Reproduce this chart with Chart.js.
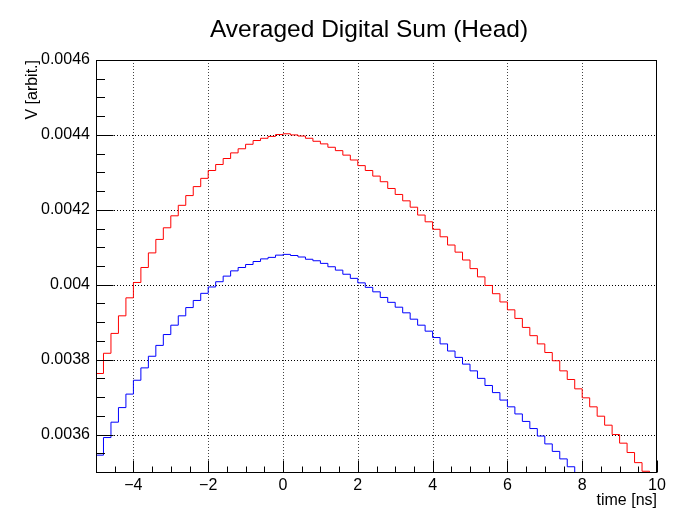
<!DOCTYPE html>
<html><head><meta charset="utf-8">
<script src="https://cdn.jsdelivr.net/npm/chart.js@4.4.1/dist/chart.umd.min.js"></script>
<style>html,body{margin:0;padding:0;background:#fff}#wrap{width:677px;height:510px}</style>
</head><body><div id="wrap"><canvas id="c" width="677" height="510"></canvas></div>
<script>
const chartTitle = 'Averaged Digital Sum (Head)';
const xAxisTitle = 'time [ns]';
const yAxisTitle = 'V [arbit.]';
const xMin = -5, xMax = 10, binWidth = 0.2;
const yMin = 0.0035, yMax = 0.0046;
const xMajorTicks = [-4, -2, 0, 2, 4, 6, 8, 10];
const yMajorTicks = [0.0036, 0.0038, 0.004, 0.0042, 0.0044, 0.0046];
const xMinorStep = 0.5;
const yMinorStep = 0.00005;

const redValues = [
  0.003763,0.003817,0.003870,0.003917,0.003965,0.004006,0.004046,0.004085,0.004121,0.004152,
  0.004184,0.004212,0.004238,0.004262,0.004284,0.004305,0.004321,0.004337,0.004352,0.004363,
  0.004375,0.004385,0.004391,0.004396,0.004401,0.004403,0.004400,0.004397,0.004391,0.004383,
  0.004376,0.004367,0.004358,0.004346,0.004333,0.004318,0.004305,0.004290,0.004275,0.004257,
  0.004241,0.004224,0.004207,0.004186,0.004168,0.004148,0.004128,0.004106,0.004087,0.004066,
  0.004043,0.004021,0.003998,0.003976,0.003954,0.003933,0.003910,0.003886,0.003864,0.003842,
  0.003819,0.003797,0.003770,0.003747,0.003722,0.003698,0.003674,0.003649,0.003625,0.003600,
  0.003577,0.003552,0.003525,0.003502,0.003478
];
const blueValues = [
  0.003545,0.003592,0.003633,0.003672,0.003708,0.003745,0.003778,0.003809,0.003838,0.003867,
  0.003892,0.003917,0.003939,0.003958,0.003977,0.003994,0.004008,0.004023,0.004037,0.004046,
  0.004054,0.004062,0.004069,0.004073,0.004079,0.004081,0.004078,0.004074,0.004068,0.004064,
  0.004057,0.004048,0.004039,0.004028,0.004017,0.004005,0.003993,0.003981,0.003966,0.003953,
  0.003940,0.003925,0.003908,0.003892,0.003876,0.003859,0.003842,0.003823,0.003806,0.003788,
  0.003770,0.003750,0.003731,0.003712,0.003692,0.003674,0.003655,0.003635,0.003616,0.003596,
  0.003575,0.003555,0.003535,0.003514,0.003493,0.003472,0.003451,0.003430,0.003409,0.003388,
  0.003367,0.003346,0.003325,0.003304,0.003283
];

function histPoints(values) {
  const pts = values.map((v, i) => ({x: xMin + i * binWidth, y: v}));
  pts.push({x: xMax, y: values[values.length - 1]});
  return pts;
}

const rootAxes = {
  id: 'rootAxes',
  beforeDatasetsDraw(chart) {
    const {ctx, chartArea: a, scales: {x, y}} = chart;
    ctx.save();
    ctx.lineWidth = 1;
    ctx.setLineDash([1, 2]);
    ctx.strokeStyle = '#444';
    xMajorTicks.forEach(v => {
      const px = Math.round(x.getPixelForValue(v)) + 0.5;
      if (px > a.left + 1 && px < a.right - 1) {
        ctx.beginPath(); ctx.moveTo(px, a.top); ctx.lineTo(px, a.bottom); ctx.stroke();
      }
    });
    ctx.strokeStyle = '#000';
    yMajorTicks.forEach(v => {
      const py = Math.round(y.getPixelForValue(v)) + 0.5;
      if (py > a.top + 1 && py < a.bottom - 1) {
        ctx.beginPath(); ctx.moveTo(a.left, py); ctx.lineTo(a.right, py); ctx.stroke();
      }
    });
    ctx.restore();
  },
  afterDatasetsDraw(chart) {
    const {ctx, chartArea: a, scales: {x, y}} = chart;
    ctx.save();
    ctx.strokeStyle = '#000';
    ctx.lineWidth = 1;
    ctx.setLineDash([]);
    const L = Math.round(a.left) + 0.5, R = Math.round(a.right) - 0.5;
    const T = Math.round(a.top) + 0.5, B = Math.round(a.bottom) + 0.5;
    ctx.strokeRect(L, T, R - L, B - T);
    const nx = Math.round((xMax - xMin) / xMinorStep);
    for (let i = 0; i <= nx; i++) {
      const v = xMin + i * xMinorStep;
      const major = xMajorTicks.some(m => Math.abs(m - v) < 1e-9);
      const px = Math.round(x.getPixelForValue(v)) + 0.5;
      const len = major ? 12 : 6;
      ctx.beginPath(); ctx.moveTo(px, B); ctx.lineTo(px, B - len); ctx.stroke();
    }
    const ny = Math.round((yMax - yMin) / yMinorStep);
    for (let i = 0; i <= ny; i++) {
      const v = yMin + i * yMinorStep;
      const major = yMajorTicks.some(m => Math.abs(m - v) < 1e-9);
      const py = Math.round(y.getPixelForValue(v)) + 0.5;
      const len = major ? 17 : 8.5;
      ctx.beginPath(); ctx.moveTo(L, py); ctx.lineTo(L + len, py); ctx.stroke();
    }
    ctx.restore();
  }
};

Chart.defaults.font.family = "'Liberation Sans', Arial, Helvetica, sans-serif";
Chart.defaults.color = '#000';

new Chart(document.getElementById('c'), {
  type: 'line',
  data: {
    datasets: [
      {label: 'red', data: histPoints(redValues), borderColor: '#ff0000', borderWidth: 1,
       stepped: true, pointRadius: 0, fill: false, tension: 0},
      {label: 'blue', data: histPoints(blueValues), borderColor: '#0000ff', borderWidth: 1,
       stepped: true, pointRadius: 0, fill: false, tension: 0}
    ]
  },
  options: {
    responsive: false,
    devicePixelRatio: 1,
    animation: false,
    layout: {padding: {left: 81, right: 20, top: 0, bottom: 0}},
    plugins: {
      legend: {display: false},
      tooltip: {enabled: false},
      title: {
        display: true, text: chartTitle, fullSize: true, color: '#000',
        font: {size: 24.5, weight: 'normal', lineHeight: 1.2},
        padding: {top: 15.3, bottom: 15.3}
      }
    },
    scales: {
      x: {
        type: 'linear', min: xMin, max: xMax,
        afterBuildTicks: s => { s.ticks = xMajorTicks.map(v => ({value: v})); },
        afterFit: s => { s.height = 38; },
        grid: {display: false, drawTicks: false},
        border: {display: false},
        ticks: {
          padding: 4, maxRotation: 0, autoSkip: false, color: '#000',
          font: {size: 16},
          callback: v => (v < 0 ? '\u2212' + Math.abs(v) : String(v))
        },
        title: {display: true, text: xAxisTitle, align: 'end', color: '#000',
                font: {size: 16}, padding: {top: 0, bottom: 0}}
      },
      y: {
        type: 'linear', min: yMin, max: yMax,
        afterBuildTicks: s => { s.ticks = yMajorTicks.map(v => ({value: v})); },
        afterFit: s => { s.width = 15; },
        grid: {display: false, drawTicks: false},
        border: {display: false},
        ticks: {
          mirror: true, crossAlign: 'far', padding: -55, autoSkip: false, color: '#000',
          font: {size: 16},
          callback: v => String(parseFloat(Number(v).toFixed(5)))
        },
        title: {display: true, text: yAxisTitle, align: 'end', color: '#000',
                font: {size: 16}, padding: {top: -58, bottom: 0}}
      }
    }
  },
  plugins: [rootAxes]
});
</script>
</body></html>
